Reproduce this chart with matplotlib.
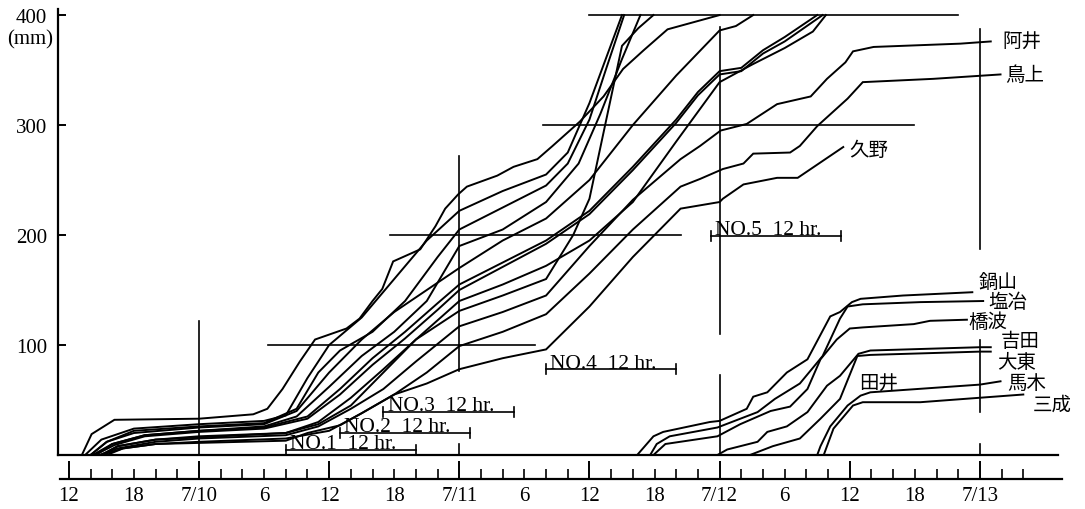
import matplotlib
matplotlib.use("Agg")
import matplotlib.pyplot as plt
from matplotlib.ticker import FixedLocator, FuncFormatter

# ==========================
# Data: cumulative rainfall (mm) vs hours from 7/9 12:00
# ==========================

# group 1 (storm of 7/10 - 7/12), unlabelled curves
c1_h = [1.5, 3, 6, 12, 18, 20, 22, 24, 27, 30, 33, 36, 40, 44, 46, 48, 49.5, 51]
c1_mm = [0, 14, 24, 28, 31, 36, 70, 100, 125, 160, 195, 222, 240, 255, 275, 320, 360, 400]
c2_h = [2, 3.5, 6, 12, 18, 21, 23, 25, 28, 31, 34, 36, 40, 44, 46, 48, 49.5, 51.2]
c2_mm = [0, 12, 22, 26, 29, 42, 75, 95, 112, 140, 180, 205, 225, 245, 265, 305, 350, 400]
c3_h = [2.5, 4, 7, 12, 18, 21, 24, 27, 30, 33, 36, 40, 44, 47, 49, 51, 52.7]
c3_mm = [0, 10, 18, 22, 26, 35, 62, 90, 112, 140, 190, 205, 230, 265, 310, 360, 400]
c4_h = [3, 4.5, 8, 12, 20, 23, 26, 29, 32, 36, 40, 44, 46.5, 48, 51, 52.5, 53.9]
c4_mm = [0, 8, 14, 17, 20, 28, 45, 75, 105, 131, 145, 160, 200, 233, 372, 388, 400]
c5_h = [1.2, 2.1, 4.2, 12, 17, 18.3, 19.7, 21.3, 22.7, 25.6, 26.8, 28, 28.9, 29.9, 32.4,
        33.8, 34.7, 35.9, 36.7, 39.5, 41, 43.2, 44.6, 47.1, 49.3, 51.1, 53, 55.2, 60]
c5_mm = [0, 19, 32, 33, 37, 42, 60, 85, 105, 115, 124, 140, 151, 176, 187,
         208, 224, 237, 244, 254, 262, 269, 281, 303, 326, 351, 368, 387, 400]
c6_h = [2, 3.5, 6, 12, 18, 21, 24, 27, 30, 33, 36, 40, 44, 48, 52, 56, 60, 61.5, 63.1]
c6_mm = [0, 12, 20, 25, 28, 40, 75, 105, 130, 150, 170, 195, 215, 250, 300, 345, 386, 390, 400]
c7_h = [2.2, 4, 7, 12, 18, 22, 25, 28, 31, 34, 36, 40, 44, 48, 52, 56, 58, 60, 62, 64, 66, 69]
c7_mm = [0, 10, 18, 22, 25, 35, 60, 88, 112, 138, 155, 175, 195, 222, 262, 305, 330, 349, 352, 368, 380, 400]
c8_h = [2.4, 4.2, 7, 12, 18, 22, 25, 28, 31, 34, 36, 40, 44, 48, 52, 56, 58, 60, 62, 64, 66, 69.5]
c8_mm = [0, 9, 17, 21, 24, 33, 55, 82, 106, 132, 150, 171, 192, 219, 259, 302, 327, 346, 349, 365, 376, 400]
c9_h = [3, 4.5, 8, 12, 20, 23, 26, 29, 32, 36, 40, 44, 48, 52, 56, 60, 63, 66, 68.6, 69.8]
c9_mm = [0, 8, 14, 16, 20, 30, 52, 78, 105, 140, 155, 172, 195, 230, 285, 339, 355, 370, 385, 400]

# group 1, labelled curves
ai_h = [2.8, 4.5, 8, 12, 20, 23, 26, 29, 32, 36, 40, 44, 48, 52, 56.4, 58.2, 60.1,
        62.5, 65.3, 68.4, 69.9, 71.6, 72.3, 74.2, 82.2, 85]
ai_mm = [0, 6, 12, 15, 18, 26, 42, 60, 85, 117, 130, 145, 190, 232, 269, 281, 295,
         301, 319, 326, 342, 357, 367, 371, 374, 376]
tori_h = [3, 5, 8, 12, 20, 24, 27, 30, 33, 36, 40, 44, 48, 52, 56.4, 58.2, 60.3, 62.2,
          63.1, 66.5, 67.4, 69, 71.8, 73.2, 79.7, 85.9]
tori_mm = [0, 6, 10, 12, 15, 22, 38, 55, 75, 99, 112, 128, 165, 205, 244, 251, 260, 265,
           274, 275, 281, 299, 324, 339, 342, 346]
kuno_h = [3.5, 5, 8, 20, 22, 25, 27, 30, 33, 36, 40, 44, 48, 52, 56.4, 60, 60.3, 62.2,
          65.3, 67.2, 68.1, 71.4]
kuno_mm = [0, 6, 10, 13, 20, 27, 38, 55, 65, 78, 88, 96, 135, 180, 224, 230, 233, 246,
           252, 252, 258, 280]

# group 2 (storm of 7/12 - 7/13)
nabe_h = [52.4, 53.9, 54.8, 59.1, 60, 62.5, 63.1, 64.4, 66.2, 68.1, 70.2, 71.1, 72.2, 73, 76.9, 83.3]
nabe_mm = [0, 17, 21, 30, 31, 42, 53, 57, 75, 87, 126, 130, 139, 142, 145, 148]
enya_h = [53.6, 54.2, 55.4, 59.8, 63.5, 65.1, 67.4, 69.5, 71.1, 71.8, 73.2, 78.5, 84.3]
enya_mm = [0, 10, 17, 25, 39, 51, 65, 90, 124, 135, 137, 139, 140]
hashi_h = [53.9, 55, 59.8, 61.9, 64.7, 66.5, 68.1, 69.3, 70.8, 72, 73.2, 77.9, 79.4, 82.8]
hashi_mm = [0, 10, 17, 28, 40, 44, 60, 87, 105, 115, 116, 119, 122, 123]
yoshi_h = [59.8, 60.7, 63.5, 64.4, 66.2, 68.1, 69.9, 71.1, 72.8, 73.9, 84, 85]
yoshi_mm = [0, 5, 12, 21, 26, 39, 63, 72, 92, 95, 98, 98]
daito_h = [62.8, 64.9, 67.4, 69.3, 71.1, 72.7, 73.9, 84, 85]
daito_mm = [0, 8, 15, 33, 51, 90, 91, 94, 94]
magi_h = [69, 69.3, 70.2, 71.8, 73, 73.9, 84, 85.9]
magi_mm = [0, 8, 26, 45, 54, 57, 64, 67]
mina_h = [69.6, 70.5, 72.3, 73.2, 78.5, 88]
mina_mm = [0, 24, 45, 48, 48, 55]

curves = [
    (c1_h, c1_mm), (c2_h, c2_mm), (c3_h, c3_mm), (c4_h, c4_mm), (c5_h, c5_mm),
    (c6_h, c6_mm), (c7_h, c7_mm), (c8_h, c8_mm), (c9_h, c9_mm),
    (ai_h, ai_mm), (tori_h, tori_mm), (kuno_h, kuno_mm),
    (nabe_h, nabe_mm), (enya_h, enya_mm), (hashi_h, hashi_mm), (yoshi_h, yoshi_mm),
    (daito_h, daito_mm), (magi_h, magi_mm), (mina_h, mina_mm),
]

# station names and where they are written (hour, mm)
station_names = ["阿井", "鳥上", "久野", "鍋山", "塩冶", "橋波", "吉田", "大東", "馬木", "三成", "田井"]
station_h = [86.1, 86.3, 72.0, 83.9, 84.8, 82.9, 85.9, 85.6, 86.5, 88.9, 72.9]
station_mm = [376, 346, 278, 158, 140, 121, 104, 85, 66, 46, 65]

# 12-hour analysis windows
win_names = ["NO.1", "NO.2", "NO.3", "NO.4", "NO.5"]
win_start = [20, 25, 29, 44, 59.2]
win_level = [4.5, 20, 39, 78, 199]
win_len = 12

# guide lines (crosses)
vline_h = [12, 36, 36, 60, 60, 84, 84, 84]
vline_lo = [0, 76, 0, 110, 0, 187, 39, 0]
vline_hi = [122, 272, 10, 389, 73, 387, 105, 10]
hline_mm = [100, 200, 300, 400]
hline_h0 = [18.4, 29.6, 43.7, 48]
hline_h1 = [43, 56.4, 77.9, 82]

# time axis labels every 6 hours
tick_labels = ["12", "18", "7/10", "6", "12", "18", "7/11", "6", "12", "18",
               "7/12", "6", "12", "18", "7/13"]

# ==========================
# Plot
# ==========================

plt.rcParams['font.family'] = ['Liberation Serif', 'DejaVu Serif']

fig = plt.figure(figsize=(10.85, 5.10), dpi=100)
ax = fig.add_axes([58 / 1085, 54 / 510, 1000 / 1085, 446 / 510])

ax.set_xlim(-1.0, 91.2)
ax.set_ylim(0, 405.5)

lw = 1.4
for h, mm in curves:
    ax.plot(h, mm, color="black", lw=lw, solid_joinstyle="miter")

for h, lo, hi in zip(vline_h, vline_lo, vline_hi):
    ax.plot([h, h], [lo, hi], color="black", lw=1.2)
for mm, h0, h1 in zip(hline_mm, hline_h0, hline_h1):
    ax.plot([h0, h1], [mm, mm], color="black", lw=1.2)

ax.axhline(0, color="black", lw=1.6, clip_on=False)

for name, s, lev in zip(win_names, win_start, win_level):
    ax.plot([s, s + win_len], [lev, lev], color="black", lw=1.2)
    ax.plot([s, s], [lev - 4.5, lev + 4.5], color="black", lw=1.2)
    ax.plot([s + win_len, s + win_len], [lev - 4.5, lev + 4.5], color="black", lw=1.2)
    ax.text(s + 0.4, lev + 1.5, name + "  12 hr.", fontsize=15.5, va="baseline", ha="left")

for name, h, mm in zip(station_names, station_h, station_mm):
    ax.text(h, mm, name, fontsize=14, va="center", ha="left",
            family=["Noto Sans CJK JP"])

# axes styling
ax.spines["top"].set_visible(False)
ax.spines["right"].set_visible(False)
ax.spines["left"].set_linewidth(1.6)
ax.spines["bottom"].set_position(("outward", 17.3))
ax.spines["bottom"].set_linewidth(1.6)
ax.spines["bottom"].set_bounds(-0.8, 91.6)

ax.set_yticks([100, 200, 300, 400])
ax.set_yticklabels(["100", "200", "300", "400"], fontsize=15)
ax.tick_params(axis="y", direction="in", length=6, width=1.4, pad=8)

major = list(range(0, 85, 12))
ax.xaxis.set_major_locator(FixedLocator(major))
ax.set_xticklabels(tick_labels[::2], fontsize=15)
ax.xaxis.set_minor_locator(FixedLocator(list(range(0, 89, 2))))


def minor_label(v, pos):
    v = int(round(v))
    if v % 24 == 6:
        return "18"
    if v % 24 == 18:
        return "6"
    return ""


ax.xaxis.set_minor_formatter(FuncFormatter(minor_label))
ax.tick_params(axis="x", which="major", direction="in", length=13, width=1.4, pad=5,
               labelsize=15)
ax.tick_params(axis="x", which="minor", direction="in", length=7, width=1.2, pad=5,
               labelsize=15)

fig.text(30 / 1085, 1 - 40 / 510, "(mm)", fontsize=15, ha="center", va="center")

fig.savefig("out.png", dpi=100)
